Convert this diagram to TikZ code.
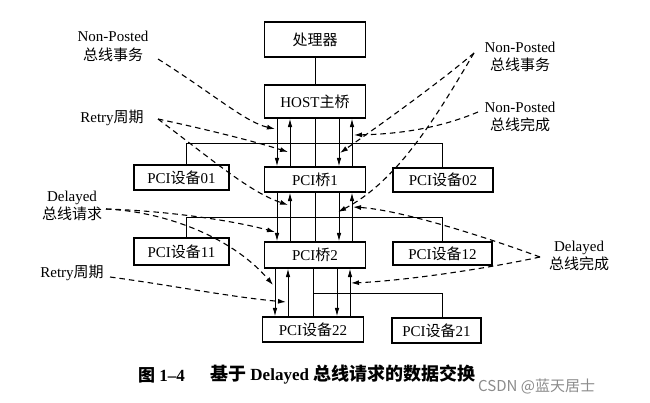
\documentclass[tikz,border=0pt]{standalone}
\usepackage{fontspec}
\setmainfont{Liberation Serif}
\newfontfamily\cjkf{Noto Sans CJK SC}
\usetikzlibrary{arrows.meta,calc}
\newcommand\zh[1]{{\cjkf #1}}
\begin{document}
\begin{tikzpicture}[x=1pt,y=-1pt,
  box/.style={draw,line width=1.2pt,inner sep=0pt,font=\fontsize{15}{18}\selectfont},
  lbl/.style={align=center,inner sep=0pt,font=\fontsize{15}{18.5}\selectfont},
  wire/.style={line width=0.9pt},
  flow/.style={line width=0.9pt,-{Latex[length=8.5pt,width=4.5pt]}},
  note/.style={line width=1.1pt,dash pattern=on 5.5pt off 4pt,-{Latex[length=8pt,width=5pt]}}
]
\fill[white] (0,0) rectangle (650,402);
\useasboundingbox (0,0) rectangle (650,402);

% boxes
\node[box,minimum width=101pt,minimum height=35pt] (proc) at (315,39.5) {\zh{处理器}};
\node[box,minimum width=101pt,minimum height=33pt] (host) at (315,101.5) {HOST\zh{主桥}};
\node[box,minimum width=101pt,minimum height=25pt] (p1) at (315,179.5) {PCI\zh{桥}1};
\node[box,minimum width=101pt,minimum height=26pt] (p2) at (315,255) {PCI\zh{桥}2};
\node[box,minimum width=101pt,minimum height=25pt] (d22) at (313,329.5) {PCI\zh{设备}22};
\node[box,minimum width=95pt,minimum height=25pt] (d01) at (181.5,177.5) {PCI\zh{设备}01};
\node[box,minimum width=95pt,minimum height=27pt] (d11) at (181.5,251.5) {PCI\zh{设备}11};
\node[box,minimum width=100pt,minimum height=24pt] (d02) at (443,180) {PCI\zh{设备}02};
\node[box,minimum width=99pt,minimum height=23pt] (d12) at (442.5,253.5) {PCI\zh{设备}12};
\node[box,minimum width=89pt,minimum height=25pt] (d21) at (436.5,330.5) {PCI\zh{设备}21};

% trunk lines
\draw[wire] (proc) -- (host);
\draw[wire] (host) -- (p1);
\draw[wire] (p1) -- (p2);
\draw[wire] (d22.north |- p2.south) -- (d22.north);

% buses
\coordinate (b0l) at (186,143); \coordinate (b0r) at (442,143);
\coordinate (b1l) at (186,217); \coordinate (b1r) at (442,217);
\coordinate (b2r) at (442,293);
\draw[wire] (d01.north -| b0l) -- (b0l) -- (b0r) -- (d02.north -| b0r);
\draw[wire] (d11.north -| b1l) -- (b1l) -- (b1r) -- (d12.north -| b1r);
\draw[wire] (d22.north |- b2r) -- (b2r) -- (d21.north -| b2r);

% flow arrows
\foreach \dx in {-38,24}{
  \draw[flow] ([xshift=\dx pt]host.south) -- ([xshift=\dx pt]p1.north);
  \draw[flow] ([xshift=\dx pt]p1.south) -- ([xshift=\dx pt]p2.north);
}
\foreach \dx in {-25,37}{
  \draw[flow] ([xshift=\dx pt]p1.north) -- ([xshift=\dx pt]host.south);
  \draw[flow] ([xshift=\dx pt]p2.north) -- ([xshift=\dx pt]p1.south);
}
\coordinate (c2t) at (d22.north |- p2.south);
\foreach \dx in {-38,24}
  \draw[flow] ([xshift=\dx pt]c2t) -- ([xshift=\dx pt]d22.north);
\foreach \dx in {-25,37}
  \draw[flow] ([xshift=\dx pt]d22.north) -- ([xshift=\dx pt]c2t);

% labels
\node[lbl] (npl) at (113,46.5) {Non-Posted\\\zh{总线事务}};
\node[lbl] (rt) at (112,118) {Retry\zh{周期}};
\node[lbl] (dr) at (72,206) {Delayed\\\zh{总线请求}};
\node[lbl] (rl) at (72,273) {Retry\zh{周期}};
\node[lbl] (npr) at (520,57) {Non-Posted\\\zh{总线事务}};
\node[lbl] (npc) at (520,117) {Non-Posted\\\zh{总线完成}};
\node[lbl] (dc) at (579,256) {Delayed\\\zh{总线完成}};

% note leader ends
\coordinate (sNPL) at (158,59);
\coordinate (sRT) at (158,119);
\coordinate (sDR) at (106,209);
\coordinate (sRL) at (110,277);
\coordinate (sNPR) at (474,53);
\coordinate (sNPC) at (478,112);
\coordinate (sDC) at (540,257);
\coordinate (tAdl) at (275,129);
\coordinate (tAul) at (288,152);
\coordinate (tBul) at (288,205);
\coordinate (tBdl) at (275,232);
\coordinate (tCdl) at (273,285);
\coordinate (tCul) at (286,302);
\coordinate (tAdr) at (340,153);
\coordinate (tBdr) at (338,212);
\coordinate (tAur) at (354,135);
\coordinate (tBur) at (353,207);
\coordinate (tCur) at (351,283);

\draw[note] (sNPL) .. controls (215,95) and (245,122) .. (tAdl);
\draw[note] (sRT) .. controls (200,128) and (250,140) .. (tAul);
\draw[note] (sRT) .. controls (215,162) and (250,192) .. (tBul);
\draw[note] (sDR) .. controls (170,211) and (235,221) .. (tBdl);
\draw[note] (sDR) .. controls (170,212) and (235,240) .. (tCdl);
\draw[note] (sRL) .. controls (170,285) and (230,297) .. (tCul);
\draw[note] (sNPR) .. controls (440,82) and (380,125) .. (tAdr);
\draw[note] (sNPR) .. controls (440,110) and (400,180) .. (tBdr);
\draw[note] (sNPC) .. controls (440,128) and (400,134) .. (tAur);
\draw[note] (sDC) .. controls (480,235) and (400,210) .. (tBur);
\draw[note] (sDC) .. controls (480,270) and (400,281) .. (tCur);

% caption
\node[anchor=west,inner sep=0pt,font=\fontsize{17}{20}\selectfont\bfseries] (capnum) at (138,375) {\zh{图} 1–4};
\node[anchor=west,inner sep=0pt,font=\fontsize{17}{20}\selectfont\bfseries] (captxt) at (210,375)
  {{\fontsize{18}{20}\selectfont\zh{基于}} Delayed {\fontsize{18}{20}\selectfont\zh{总线请求的数据交换}}};
\node[anchor=west,inner sep=0pt,text=black!45,font=\cjkf\fontsize{15}{18}\selectfont] (wm) at (478,386) {CSDN @蓝天居士};
\end{tikzpicture}
\end{document}
